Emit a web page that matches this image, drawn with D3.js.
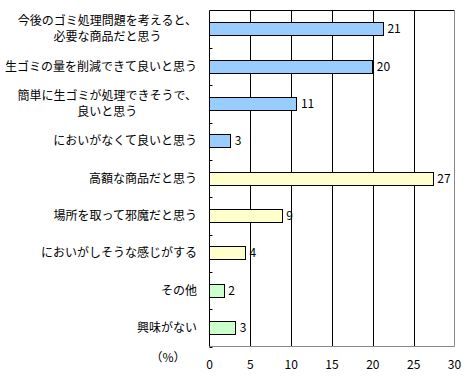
<!DOCTYPE html>
<meta charset="utf-8">
<style>
    body { margin: 0; background: #fff; }
    text { font-family: "Noto Sans CJK JP", sans-serif; font-size: 12px; fill: #000; }
</style>
<body>
<script src="https://d3js.org/d3.v7.min.js"></script>
<script>
    var width = 470,
        height = 376;

    var categories = [
        "今後のゴミ処理問題を考えると、\n必要な商品だと思う",
        "生ゴミの量を削減できて良いと思う",
        "簡単に生ゴミが処理できそうで、\n良いと思う",
        "においがなくて良いと思う",
        "高額な商品だと思う",
        "場所を取って邪魔だと思う",
        "においがしそうな感じがする",
        "その他",
        "興味がない"
    ];
    var values = [21.3, 20.0, 10.7, 2.6, 27.4, 8.9, 4.4, 1.8, 3.2];
    var groups = ["good", "good", "good", "good", "bad", "bad", "bad", "other", "other"];
    var xTicks = [0, 5, 10, 15, 20, 25, 30];

    var colors = { good: "#99ccff", bad: "#ffffcc", other: "#ccffcc" };

    var plotL = 209.5, plotR = 454.5, plotT = 10.5, plotB = 346.5;

    var x = d3.scaleLinear().domain([0, 30]).range([plotL, plotR]);
    var y = d3.scaleBand().domain(d3.range(categories.length)).range([plotT, plotB]).paddingInner(0.64).paddingOuter(0.32);
    var band = d3.scaleBand().domain(d3.range(categories.length)).range([plotT, plotB]);

    var svg = d3.select("body").append("svg")
        .attr("width", width)
        .attr("height", height);

    // gridlines
    svg.selectAll("line.grid")
        .data(xTicks.slice(1, -1))
        .enter().append("line")
        .attr("x1", d => Math.round(x(d)) + 0.5).attr("x2", d => Math.round(x(d)) + 0.5)
        .attr("y1", plotT).attr("y2", plotB)
        .attr("stroke", "#000");

    // frame
    svg.append("line").attr("x1", plotL).attr("x2", plotR).attr("y1", plotT).attr("y2", plotT).attr("stroke", "#000");
    svg.append("line").attr("x1", plotR).attr("x2", plotR).attr("y1", plotT).attr("y2", plotB).attr("stroke", "#888");
    svg.append("line").attr("x1", plotL).attr("x2", plotR).attr("y1", plotB).attr("y2", plotB).attr("stroke", "#888");

    // bars
    svg.selectAll("rect.bar")
        .data(values)
        .enter().append("rect")
        .attr("x", x(0))
        .attr("y", (d, i) => Math.round(y(i)) + 0.5)
        .attr("width", d => Math.round(x(d) - x(0)))
        .attr("height", Math.round(y.bandwidth()))
        .attr("fill", (d, i) => colors[groups[i]])
        .attr("stroke", "#000");

    // left axis with inner ticks
    svg.append("line").attr("x1", plotL).attr("x2", plotL).attr("y1", plotT).attr("y2", plotB).attr("stroke", "#000");
    svg.selectAll("line.ytick")
        .data(d3.range(1, categories.length + 1))
        .enter().append("line")
        .attr("x1", plotL).attr("x2", plotL + 3)
        .attr("y1", d => Math.round(band(d - 1) + band.bandwidth()) + 0.5)
        .attr("y2", d => Math.round(band(d - 1) + band.bandwidth()) + 0.5)
        .attr("stroke", "#000");

    // value labels
    svg.selectAll("text.val")
        .data(values)
        .enter().append("text")
        .attr("x", d => x(d) + 4)
        .attr("y", (d, i) => y(i) + y.bandwidth() / 2)
        .attr("dy", "0.35em")
        .text(d => d3.format(".0f")(d));

    // category labels
    categories.forEach(function (c, i) {
        var lines = c.split("\n");
        var g = svg.append("g");
        var cy = band(i) + band.bandwidth() / 2;
        var texts = lines.map(function (l, j) {
            return g.append("text")
                .attr("y", cy + (j - (lines.length - 1) / 2) * 16)
                .attr("dy", "0.35em")
                .attr("text-anchor", "middle")
                .text(l);
        });
        var maxW = d3.max(texts, t => t.node().getComputedTextLength());
        texts.forEach(t => t.attr("x", 197 - maxW / 2));
    });

    // x tick labels
    svg.selectAll("text.xt")
        .data(xTicks)
        .enter().append("text")
        .attr("x", d => x(d))
        .attr("y", 365)
        .attr("dy", "0.35em")
        .attr("text-anchor", "middle")
        .text(d => d);

    svg.append("text")
        .attr("x", 168)
        .attr("y", 358)
        .attr("dy", "0.35em")
        .attr("text-anchor", "middle")
        .text("（%）");
</script>
</body>
